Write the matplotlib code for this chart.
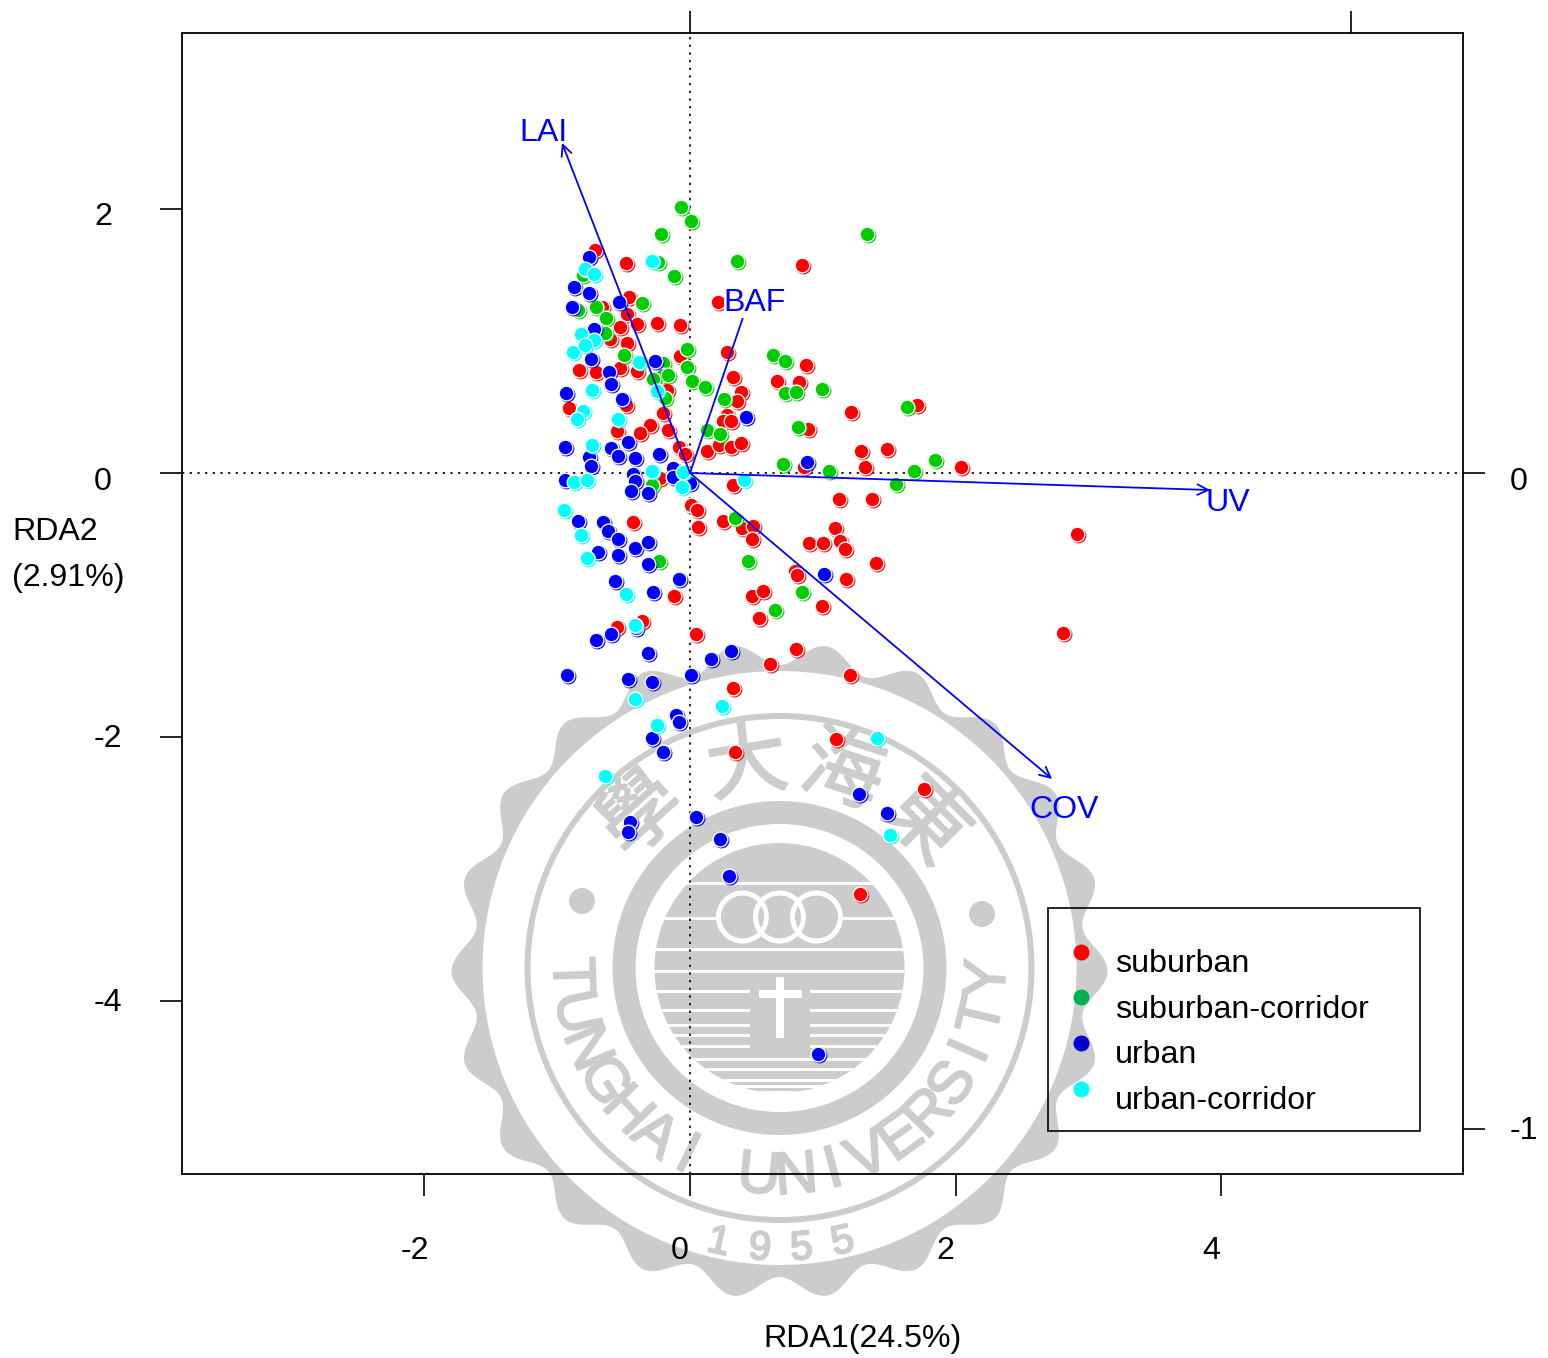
import numpy as np
import matplotlib
matplotlib.use("Agg")
import matplotlib.pyplot as plt
import matplotlib.patheffects as pe
from matplotlib.lines import Line2D
from matplotlib.patches import Circle, Polygon, Rectangle
from matplotlib.transforms import ScaledTranslation, blended_transform_factory

plt.rcParams['font.family'] = ['Liberation Sans', 'DejaVu Sans']

suburban = [(-0.715,1.689),(-0.482,1.591),(-0.459,1.333),(0.211,1.295),(-0.663,1.258),(-0.474,1.205),(-0.399,1.129),(-0.527,1.106),(-0.248,1.136),(-0.075,1.121),(-0.602,1.015),(-0.474,0.985),(0.279,0.917),(0.843,1.576),(-0.075,0.886),(0.324,0.727),(0.384,0.614),(0.354,0.545),(0.655,0.697),(0.821,0.689),(0.873,0.818),(-0.836,0.780),(-0.708,0.765),(-0.527,0.795),(-0.399,0.773),(-0.482,0.515),(-0.173,0.629),(-0.911,0.492),(-0.203,0.455),(0.279,0.439),(0.248,0.394),(0.309,0.394),(-0.301,0.364),(-0.377,0.303),(-0.166,0.326),(-0.550,0.318),(-0.083,0.197),(-0.038,0.144),(0.128,0.167),(0.218,0.212),(0.309,0.197),(0.384,0.227),(-0.226,-0.038),(0.324,-0.091),(1.212,0.462),(1.709,0.515),(0.889,0.333),(1.288,0.167),(1.483,0.182),(1.318,0.045),(2.041,0.045),(0.858,0.045),(1.122,-0.197),(1.370,-0.197),(1.092,-0.417),(0.896,-0.530),(1.002,-0.530),(1.130,-0.515),(1.167,-0.576),(1.401,-0.682),(0.791,-0.742),(0.806,-0.773),(1.175,-0.803),(0.994,-1.008),(2.914,-0.462),(2.809,-1.212),(-0.429,-0.371),(-0.120,-0.932),(0.008,-0.242),(0.053,-0.280),(0.060,-0.409),(0.248,-0.364),(0.392,-0.417),(0.474,-0.402),(0.467,-0.500),(0.467,-0.932),(0.550,-0.894),(0.520,-1.098),(-0.361,-1.121),(-0.550,-1.167),(0.045,-1.220),(0.602,-1.447),(0.798,-1.333),(1.205,-1.530),(0.324,-1.629),(0.339,-2.114),(1.099,-2.015),(1.762,-2.394),(1.280,-3.189)]
suburban_corridor = [(-0.068,2.015),(0.008,1.909),(-0.218,1.811),(-0.241,1.598),(-0.120,1.492),(0.354,1.606),(1.333,1.811),(-0.361,1.288),(-0.708,1.258),(-0.633,1.174),(-0.843,1.235),(-0.640,1.061),(-0.023,0.939),(-0.806,1.500),(-0.497,0.894),(-0.023,0.803),(-0.203,0.833),(-0.203,0.742),(-0.166,0.742),(-0.279,0.712),(0.015,0.697),(0.113,0.652),(0.256,0.561),(0.625,0.894),(0.715,0.848),(0.715,0.606),(0.798,0.614),(0.994,0.636),(-0.188,0.568),(1.634,0.500),(0.813,0.348),(0.128,0.326),(0.226,0.295),(0.700,0.068),(1.047,0.015),(1.687,0.015),(1.845,0.098),(1.551,-0.083),(-0.286,-0.091),(0.339,-0.341),(-0.233,-0.667),(0.437,-0.667),(0.843,-0.902),(0.640,-1.038)]
urban = [(-0.761,1.636),(-0.873,1.409),(-0.761,1.364),(-0.535,1.295),(-0.889,1.258),(-0.723,1.091),(-0.745,0.864),(-0.264,0.848),(-0.610,0.765),(-0.595,0.674),(-0.934,0.606),(-0.512,0.561),(0.422,0.424),(-0.467,0.235),(-0.595,0.189),(-0.542,0.129),(-0.414,0.114),(-0.941,0.197),(-0.761,0.121),(-0.745,0.053),(-0.233,0.144),(-0.128,0.038),(-0.128,-0.030),(-0.429,-0.008),(-0.414,-0.061),(0.000,-0.076),(-0.444,-0.136),(-0.316,-0.152),(-0.941,-0.053),(0.881,0.083),(-0.843,-0.364),(-0.655,-0.371),(-0.617,-0.439),(-0.542,-0.500),(-0.693,-0.598),(-0.542,-0.621),(-0.414,-0.568),(-0.316,-0.523),(-0.316,-0.689),(-0.565,-0.818),(-0.279,-0.902),(-0.083,-0.803),(1.009,-0.765),(-0.407,-1.174),(-0.595,-1.220),(-0.708,-1.265),(-0.316,-1.364),(0.158,-1.409),(0.309,-1.348),(-0.926,-1.530),(-0.467,-1.561),(-0.286,-1.583),(0.008,-1.530),(-0.105,-1.833),(-0.083,-1.886),(-0.286,-2.008),(-0.203,-2.114),(1.273,-2.432),(1.483,-2.576),(0.045,-2.606),(-0.452,-2.644),(-0.467,-2.720),(0.226,-2.773),(0.294,-3.053),(0.964,-4.402)]
urban_corridor = [(-0.286,1.606),(-0.791,1.545),(-0.723,1.508),(-0.821,1.053),(-0.723,1.008),(-0.881,0.917),(-0.791,0.970),(-0.384,0.841),(-0.738,0.629),(-0.248,0.621),(-0.806,0.470),(-0.851,0.409),(-0.542,0.409),(-0.738,0.212),(-0.053,0.008),(-0.286,0.015),(-0.060,-0.106),(-0.873,-0.068),(-0.776,-0.053),(0.407,-0.053),(-0.949,-0.280),(-0.821,-0.470),(-0.776,-0.644),(-0.482,-0.917),(-0.414,-1.152),(-0.414,-1.712),(0.241,-1.765),(-0.248,-1.909),(1.408,-2.008),(-0.640,-2.295),(1.506,-2.742)]
group_names = ['suburban', 'suburban-corridor', 'urban', 'urban-corridor']
group_colors = ['#FF0000', '#00CD00', '#0000FF', '#00FFFF']
legend_colors = ['#FF0000', '#00B04F', '#0000D0', '#00FFFF']

arrow_names = ['LAI', 'BAF', 'UV', 'COV']
arrow_tips = [(-0.964, 2.50), (0.44, 1.30), (3.916, -0.129), (2.726, -2.318)]
arrow_label_pos = [(-1.107, 2.575), (0.489, 1.288), (4.05, -0.228), (2.82, -2.553)]

x_ticks = [-2, 0, 2, 4]
y_ticks = [2, 0, -2, -4]
top_ticks = [0, 1]
right_ticks = [0, -1]
FS = 23.1
GREY = '#CCCCCC'
W, H = 1548, 1358
DPI = 100

fig = plt.figure(figsize=(W / DPI, H / DPI), dpi=DPI, facecolor='white')

# ---- seal in the background, in pixel coordinates
bg = fig.add_axes([0, 0, 1, 1], zorder=0)
bg.set_xlim(0, W); bg.set_ylim(H, 0); bg.axis('off')
cx, cy = 779.5, 968
th = np.linspace(0, 2 * np.pi, 1500)
rr = 317 + 11 * np.cos(22 * (th - np.pi))
bg.add_patch(Polygon(np.c_[cx + rr * np.cos(th), cy + 3 + rr * np.sin(th)], fc=GREY, ec='none'))
for r, c in [(297, 'white'), (255, GREY), (249, 'white'), (167, GREY), (144, 'white')]:
    bg.add_patch(Circle((cx, cy), r, fc=c, ec='none'))
disc = Circle((cx, cy), 125, fc=GREY, ec='none')
bg.add_patch(disc)
for yy in [883, 918, 949, 971, 991, 1010, 1025, 1035, 1046, 1059, 1069, 1080, 1086, 1092]:
    s = bg.add_patch(Rectangle((cx - 130, yy - 1.5), 260, 3, fc='white', ec='none'))
    s.set_clip_path(disc)
bg.add_patch(Rectangle((cx - 30, 980), 60, 70, fc=GREY, ec='none'))
for dx in (-37, 0, 37):
    bg.add_patch(Circle((cx + dx, 917), 24, fc=GREY, ec='white', lw=3.4))
for dx in (-37, 0, 37):
    bg.add_patch(Circle((cx + dx, 917), 24, fc='none', ec='white', lw=3.4))
bg.add_patch(Rectangle((cx - 4, 977), 8, 61, fc='white', ec='none'))
bg.add_patch(Rectangle((cx - 21, 990), 43, 8, fc='white', ec='none'))
bg.add_patch(Circle((582, 901), 13, fc=GREY, ec='none'))
bg.add_patch(Circle((982, 914), 13, fc=GREY, ec='none'))


def thick(w):
    return [pe.withStroke(linewidth=w, foreground=GREY)]


for i, ch in enumerate('TUNGHAI UNIVERSITY'):
    a = np.deg2rad(-88 + i * 175 / 17)
    bg.text(cx + 210 * np.sin(a), cy + 210 * np.cos(a), ch, color=GREY, fontsize=43,
            family=['Liberation Sans Narrow', 'Liberation Sans'],
            rotation=np.rad2deg(a), rotation_mode='anchor', ha='center', va='center',
            path_effects=thick(1.5))
for ch, deg in zip('學大海東', (-42, -9, 18, 45)):
    a = np.deg2rad(deg)
    bg.text(cx + 205 * np.sin(a), cy - 205 * np.cos(a), ch, color=GREY, fontsize=58,
            family=['Noto Sans CJK TC', 'DejaVu Sans'], rotation=-deg,
            rotation_mode='anchor', ha='center', va='center', path_effects=thick(1.5))
for ch, deg in zip('1955', (-12.5, -4, 4.5, 13)):
    a = np.deg2rad(deg)
    bg.text(cx + 281 * np.sin(a), cy + 281 * np.cos(a), ch, color=GREY, fontsize=29,
            rotation=deg, rotation_mode='anchor', ha='center', va='center',
            path_effects=thick(1.5))

# ---- main plot
left, right, top, bottom = 182, 1463, 33, 1174
ax = fig.add_axes([left / W, 1 - bottom / H, (right - left) / W, (bottom - top) / H], zorder=2)
ax.patch.set_visible(False)
ax.set_xlim(-3.825, 5.82)
ax.set_ylim(-5.31, 3.333)
for s in ax.spines.values():
    s.set_linewidth(1.3)

ax.axhline(0, color='black', lw=1.2, ls=(0, (1.4, 3.2)), zorder=1)
ax.axvline(0, color='black', lw=1.2, ls=(0, (1.4, 3.2)), zorder=1)

shift = ax.transData + ScaledTranslation(1.2 / DPI, -1.2 / DPI, fig.dpi_scale_trans)
z = 3.0
for pts, col in zip([suburban, suburban_corridor, urban, urban_corridor], group_colors):
    for (px, py) in pts:
        ax.scatter([px], [py], s=130, c=col, linewidths=0, transform=shift, zorder=z, clip_on=False)
        ax.scatter([px], [py], s=134, c='white', linewidths=0, zorder=z + 1e-4)
        ax.scatter([px], [py], s=92, c=col, linewidths=0, zorder=z + 2e-4)
        z += 1e-3

for name, tip, lab in zip(arrow_names, arrow_tips, arrow_label_pos):
    ax.annotate('', xy=tip, xytext=(0, 0), zorder=5,
                arrowprops=dict(arrowstyle='->,head_length=0.55,head_width=0.27', color='#0000FF',
                                lw=1.3, shrinkA=0, shrinkB=0, mutation_scale=14))
    t = ax.text(lab[0], lab[1], name, color='#0000FF', fontsize=FS, ha='center', va='center', zorder=6)
    if name == 'BAF':
        t.set_bbox(dict(fc='white', ec='none', pad=0))

ax.set_xticks(x_ticks)
ax.set_xticklabels([str(v) for v in x_ticks])
ax.set_yticks(y_ticks)
ax.set_yticklabels([str(v) for v in y_ticks])
ax.tick_params(length=15.8, width=1.2, labelsize=FS)


def offset(dx, dy):
    return ScaledTranslation(dx / DPI, -dy / DPI, fig.dpi_scale_trans)


for lab in ax.get_xticklabels():
    lab.set_transform(ax.get_xaxis_transform() + offset(-10, 77))
    lab.set_verticalalignment('center')
for lab, dy in zip(ax.get_yticklabels(), (8, 9, 2, 2)):
    lab.set_transform(ax.get_yaxis_transform() + offset(94 - left, dy))
    lab.set_horizontalalignment('left')
    lab.set_verticalalignment('center')

axt = ax.twiny()
axt.set_xlim(-3.825 / 4.977, 5.82 / 4.977)
axt.set_xticks(top_ticks)
axt.set_xticklabels(['', ''])
axt.tick_params(length=15.8, width=1.2)
axr = ax.twinx()
axr.set_ylim(-5.31 / 4.97, 3.333 / 4.97)
axr.set_yticks(right_ticks)
axr.set_yticklabels([str(v) for v in right_ticks])
axr.tick_params(length=15.8, width=1.2, labelsize=FS)
for lab, dy in zip(axr.get_yticklabels(), (9, 2)):
    lab.set_transform(blended_transform_factory(axr.transAxes, axr.transData) + offset(1510 - left - (right - left), dy))
    lab.set_horizontalalignment('left')
    lab.set_verticalalignment('center')
for a in (axt, axr):
    a.patch.set_visible(False)
    for s in a.spines.values():
        s.set_visible(False)

ax.set_xlabel('RDA1(24.5%)', fontsize=FS, va='center')
ax.xaxis.set_label_coords((863 - left) / (right - left), -(1339 - bottom) / (bottom - top))
ax.set_ylabel('RDA2\n(2.91%)', fontsize=FS, rotation=0, ha='left', va='center', linespacing=1.73)
ax.yaxis.set_label_coords((12 - left) / (right - left), (bottom - 555) / (bottom - top))

# ---- legend
ax.add_patch(Rectangle(((1048 - left) / (right - left), (bottom - 1131) / (bottom - top)),
                       372 / (right - left), 223 / (bottom - top), transform=ax.transAxes,
                       fc='none', ec='black', lw=1.2, zorder=7))
handles = [Line2D([], [], ls='none', marker='o', ms=11.5, mfc=c, mec='none', label=n)
           for n, c in zip(group_names, legend_colors)]
leg = ax.legend(handles=handles, loc='upper left', frameon=False, fontsize=FS, borderpad=0,
                borderaxespad=0, handlelength=1.24, handletextpad=0.44, labelspacing=0.49,
                bbox_to_anchor=((1061 - left) / (right - left), (bottom - 940) / (bottom - top)))
leg.set_zorder(8)
for t in leg.get_texts():
    t.set_position((0, -9))

fig.savefig('out.png', dpi=DPI, facecolor='white')
